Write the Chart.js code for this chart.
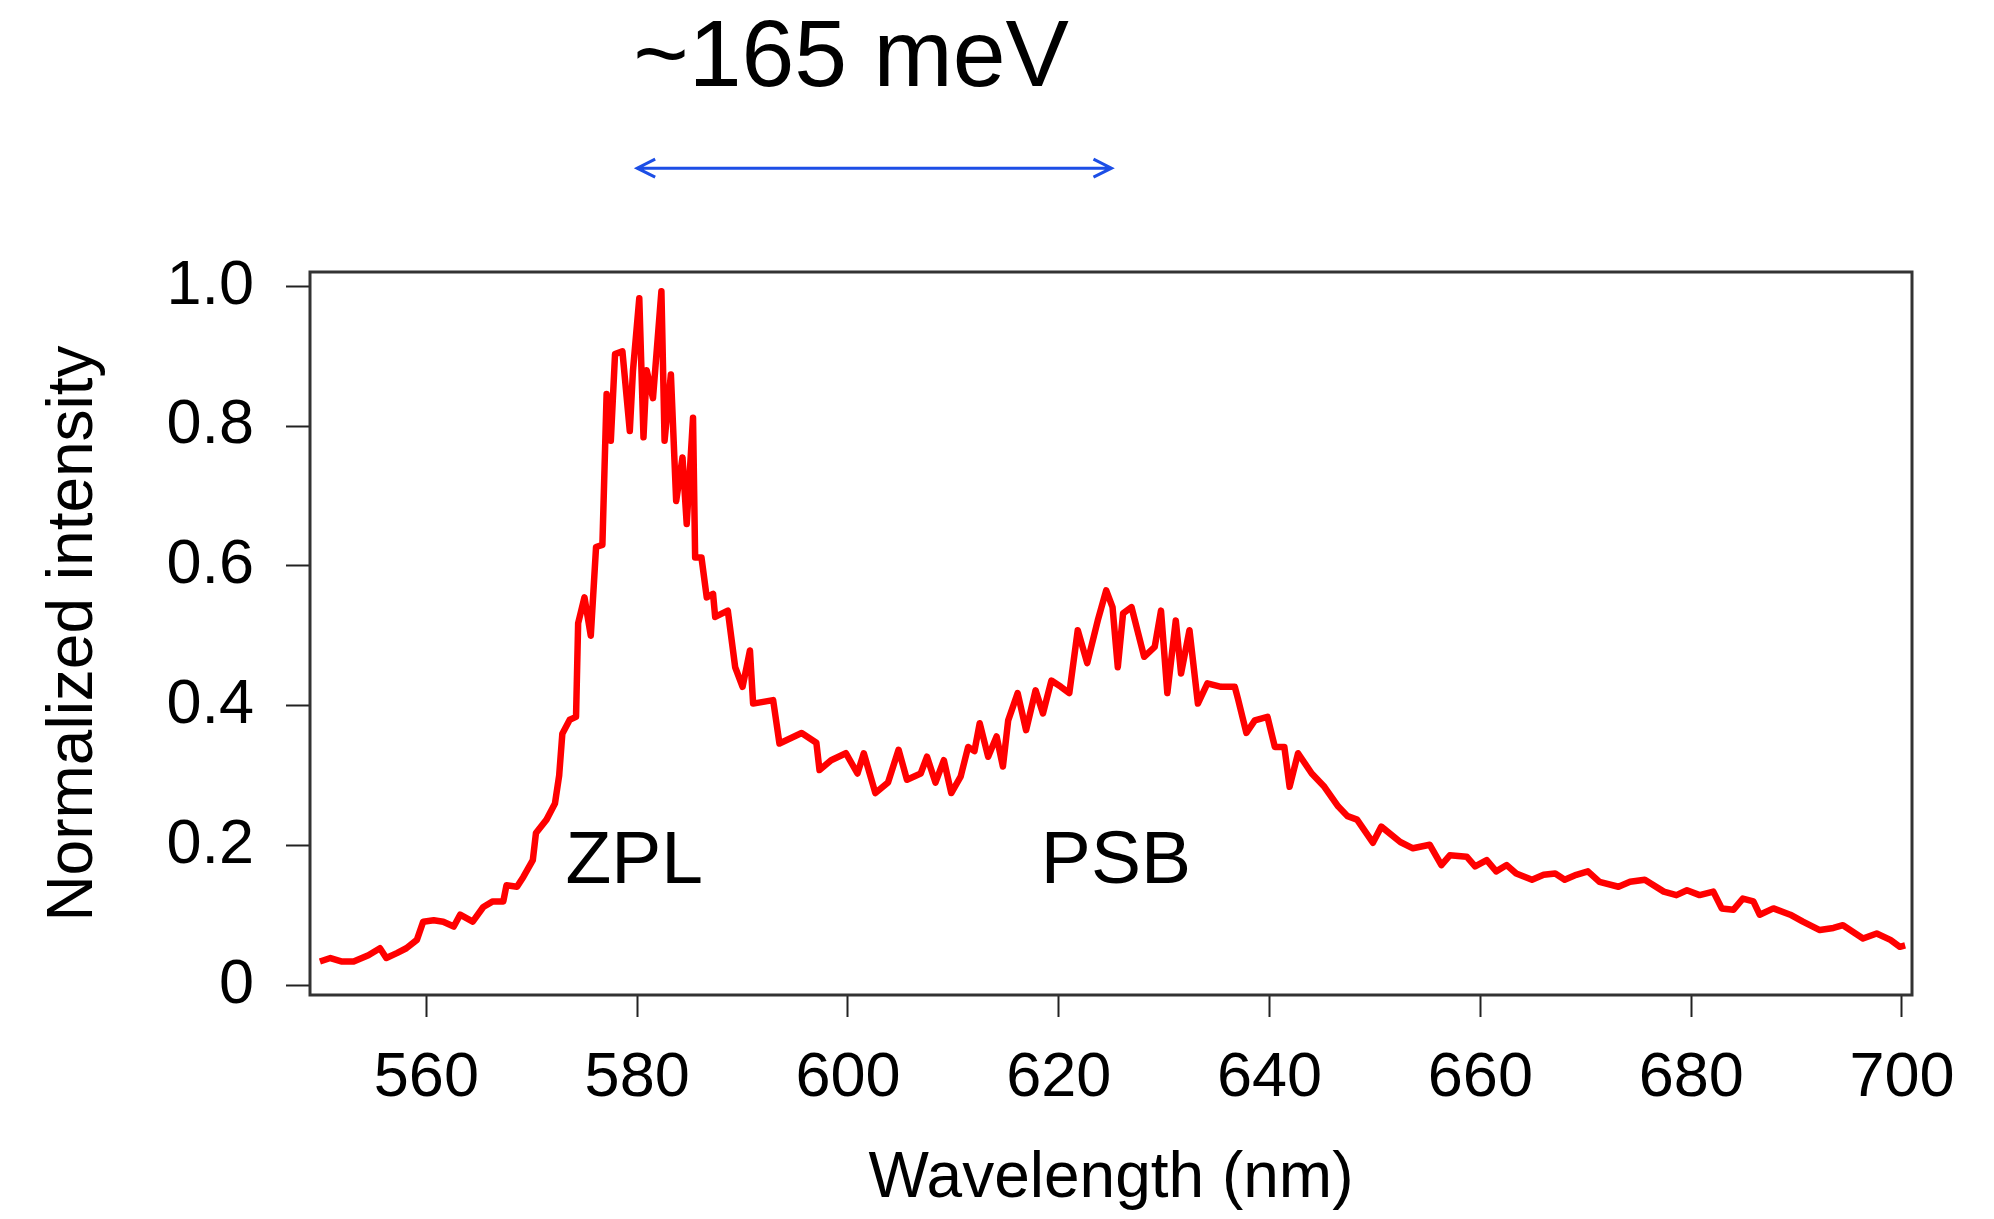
<!DOCTYPE html>
<html>
<head>
<meta charset="utf-8">
<script src="https://cdn.jsdelivr.net/npm/chart.js@4.4.1/dist/chart.umd.min.js"></script>
<style>
  body { margin: 0; background: #fff; }
  #wrap { width: 1994px; height: 1219px; }
</style>
</head>
<body>
<div id="wrap"><canvas id="spectrum" width="1994" height="1219"></canvas></div>
<script>
// spectrum: wavelength (nm) and normalized intensity
const wavelength = [
  549.9, 550.9, 552.0, 553.1, 554.5, 555.6, 556.2, 557.2, 558.1, 559.1,
  559.7, 560.7, 561.6, 562.6, 563.2, 564.4, 565.4, 566.3, 567.3, 567.6,
  568.6, 569.2, 570.1, 570.4, 571.4, 572.2, 572.6, 572.9, 573.6, 574.2,
  574.4, 575.0, 575.6, 576.1, 576.7, 577.1, 577.5, 577.9, 578.6, 579.3,
  579.6, 580.2, 580.6, 580.9, 581.5, 582.3, 582.6, 583.2, 583.7, 584.3,
  584.7, 585.3, 585.5, 586.1, 586.6, 587.2, 587.4, 588.6, 589.3, 590.0,
  590.7, 591.0, 592.9, 593.5, 595.6, 597.0, 597.3, 598.4, 599.8, 600.9,
  601.5, 602.6, 603.8, 604.8, 605.6, 606.9, 607.5, 608.3, 609.1, 609.8,
  610.7, 611.4, 612.0, 612.5, 613.3, 614.1, 614.7, 615.2, 616.1, 616.9,
  617.8, 618.5, 619.3, 620.2, 621.0, 621.8, 622.7, 623.7, 624.5, 625.1,
  625.6, 626.1, 626.9, 628.1, 629.1, 629.7, 630.3, 631.1, 631.6, 632.4,
  633.2, 634.1, 635.4, 636.7, 637.0, 637.8, 638.6, 639.8, 640.5, 641.4,
  641.9, 642.7, 644.0, 645.2, 646.5, 647.4, 648.3, 649.8, 650.6, 652.4,
  653.6, 655.2, 656.3, 657.1, 658.7, 659.5, 660.6, 661.5, 662.5, 663.4,
  664.9, 666.0, 667.1, 668.0, 669.1, 670.2, 671.3, 673.1, 674.2, 675.6,
  677.4, 678.6, 679.6, 680.8, 682.1, 682.9, 684.0, 684.9, 685.9, 686.5,
  687.8, 689.4, 690.6, 692.2, 693.5, 694.4, 696.3, 697.6, 698.9, 699.8,
  700.3
];
const intensity = [
  0.034, 0.039, 0.034, 0.034, 0.043, 0.053, 0.039, 0.046, 0.053, 0.065,
  0.091, 0.093, 0.091, 0.084, 0.101, 0.091, 0.112, 0.120, 0.120, 0.143,
  0.141, 0.155, 0.179, 0.218, 0.237, 0.260, 0.300, 0.360, 0.380, 0.384,
  0.518, 0.555, 0.500, 0.627, 0.630, 0.846, 0.779, 0.903, 0.907, 0.793,
  0.879, 0.983, 0.784, 0.880, 0.840, 0.993, 0.779, 0.874, 0.693, 0.755,
  0.660, 0.812, 0.612, 0.612, 0.555, 0.560, 0.527, 0.536, 0.455, 0.427,
  0.479, 0.403, 0.408, 0.346, 0.361, 0.347, 0.308, 0.322, 0.332, 0.303,
  0.332, 0.275, 0.290, 0.337, 0.294, 0.303, 0.327, 0.290, 0.322, 0.275,
  0.299, 0.341, 0.335, 0.375, 0.327, 0.356, 0.313, 0.379, 0.418, 0.365,
  0.422, 0.389, 0.436, 0.427, 0.418, 0.508, 0.461, 0.522, 0.565, 0.541,
  0.455, 0.532, 0.541, 0.470, 0.484, 0.536, 0.418, 0.522, 0.446, 0.508,
  0.403, 0.432, 0.427, 0.427, 0.410, 0.361, 0.379, 0.384, 0.341, 0.341,
  0.284, 0.332, 0.303, 0.284, 0.256, 0.242, 0.237, 0.204, 0.227, 0.205,
  0.196, 0.201, 0.172, 0.186, 0.184, 0.170, 0.179, 0.163, 0.172, 0.160,
  0.151, 0.158, 0.160, 0.151, 0.158, 0.163, 0.148, 0.141, 0.148, 0.151,
  0.134, 0.129, 0.136, 0.129, 0.134, 0.110, 0.108, 0.124, 0.120, 0.101,
  0.110, 0.101, 0.091, 0.079, 0.082, 0.086, 0.067, 0.074, 0.065, 0.055,
  0.057
];
const xTicks = [560, 580, 600, 620, 640, 660, 680, 700];
const yTicks = [0, 0.2, 0.4, 0.6, 0.8, 1.0];
const peakNames = ["ZPL", "PSB"];
const splitText = "~165 meV";

const FONT = "'Liberation Sans', Arial, Helvetica, sans-serif";

// where the annotations sit, in data units
const notes = {
  peakX: [573.2, 618.3],
  peakY: 0.146,
  splitX: [580, 625],
  arrowY: 1.169,
  textY: 1.286
};

const annotations = {
  id: "annotations",
  afterDraw(chart) {
    const { ctx, chartArea, scales } = chart;
    const x = scales.x, y = scales.y;

    // plot frame
    ctx.save();
    ctx.strokeStyle = "#333";
    ctx.lineWidth = 3;
    ctx.strokeRect(chartArea.left, chartArea.top,
      chartArea.right - chartArea.left, chartArea.bottom - chartArea.top);

    // peak labels
    ctx.fillStyle = "#000";
    ctx.font = "75px " + FONT;
    ctx.textAlign = "left";
    ctx.textBaseline = "alphabetic";
    peakNames.forEach((name, i) => {
      ctx.fillText(name, x.getPixelForValue(notes.peakX[i]), y.getPixelForValue(notes.peakY));
    });

    // splitting arrow and text
    const x1 = x.getPixelForValue(notes.splitX[0]);
    const x2 = x.getPixelForValue(notes.splitX[1]);
    const ya = y.getPixelForValue(notes.arrowY);
    ctx.strokeStyle = "#1c4ee6";
    ctx.lineWidth = 3;
    ctx.beginPath();
    ctx.moveTo(x1, ya);
    ctx.lineTo(x2, ya);
    ctx.moveTo(x1 + 18, ya - 9);
    ctx.lineTo(x1, ya);
    ctx.lineTo(x1 + 18, ya + 9);
    ctx.moveTo(x2 - 18, ya - 9);
    ctx.lineTo(x2, ya);
    ctx.lineTo(x2 - 18, ya + 9);
    ctx.stroke();

    ctx.font = "95px " + FONT;
    ctx.fillText(splitText, x1 - 4, y.getPixelForValue(notes.textY));
    ctx.restore();
  }
};

const tickFont = { family: FONT, size: 63 };
const titleFont = { family: FONT, size: 64 };

new Chart(document.getElementById("spectrum"), {
  type: "line",
  data: {
    datasets: [{
      data: wavelength.map((w, i) => ({ x: w, y: intensity[i] })),
      borderColor: "#ff0000",
      borderWidth: 6.5,
      borderJoinStyle: "round",
      pointRadius: 0,
      tension: 0,
      fill: false
    }]
  },
  options: {
    responsive: false,
    animation: false,
    layout: { padding: { top: 272, right: 82, left: 0, bottom: 0 } },
    plugins: { legend: { display: false }, tooltip: { enabled: false } },
    scales: {
      x: {
        type: "linear",
        min: 548.96,
        max: 700.95,
        afterFit(scale) { scale.height = 224; },
        afterBuildTicks(scale) { scale.ticks = xTicks.map(v => ({ value: v })); },
        grid: { drawOnChartArea: false, tickLength: 22, tickColor: "#222", tickWidth: 2 },
        border: { display: false },
        ticks: { font: tickFont, color: "#000", padding: 24, maxRotation: 0, autoSkip: false },
        title: { display: true, text: "Wavelength (nm)", font: titleFont, color: "#000", padding: { top: 0, bottom: 1 } }
      },
      y: {
        min: -0.0139,
        max: 1.0205,
        afterFit(scale) { scale.width = 310; },
        afterBuildTicks(scale) { scale.ticks = yTicks.map(v => ({ value: v })); },
        grid: { drawOnChartArea: false, tickLength: 24, tickColor: "#222", tickWidth: 2 },
        border: { display: false },
        ticks: {
          font: tickFont, color: "#000", padding: 32,
          callback: v => (v === 0 ? "0" : v.toFixed(1))
        },
        title: { display: true, text: "Normalized intensity", font: titleFont, color: "#000", padding: { top: 36, bottom: 0 } }
      }
    }
  },
  plugins: [annotations]
});
</script>
</body>
</html>
